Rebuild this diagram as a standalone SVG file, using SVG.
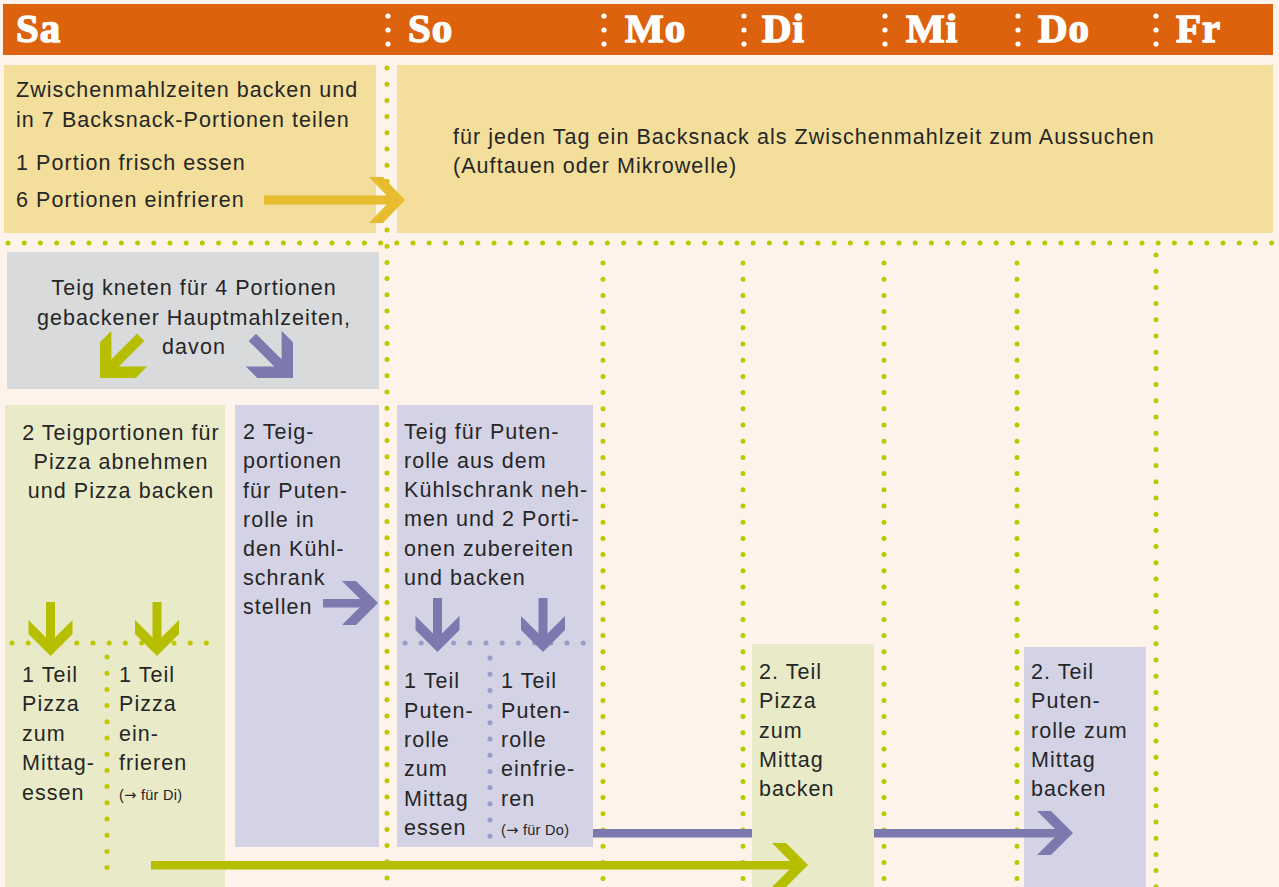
<svg xmlns="http://www.w3.org/2000/svg" xmlns:xlink="http://www.w3.org/1999/xlink" width="1279" height="887" viewBox="0 0 1279 887">
<defs>
<style>
.t{font-family:"Liberation Sans",Arial,sans-serif;font-size:21.5px;fill:#262626;letter-spacing:1.05px}
.s{font-size:14.5px;letter-spacing:0.3px}
.ar{font-family:"DejaVu Sans",sans-serif}
.day{font-family:"Liberation Serif","Times New Roman",serif;font-weight:bold;font-size:41px;fill:#fff;stroke:#fff;stroke-width:1.4px;letter-spacing:1px}
.gd{fill:none;stroke:#BEC700;stroke-width:5;stroke-linecap:round;stroke-dasharray:0 16.2}
.pd{fill:none;stroke:#9C9AC9;stroke-width:5;stroke-linecap:round;stroke-dasharray:0 16.2}
.yel{fill:#F3DE9C}
.gry{fill:#D9DADC}
.grn{fill:#E9EBC8}
.pur{fill:#D4D3E6}
.ga{fill:#B6BE00}
.pa{fill:#7B79AE}
.ya{fill:#E7BD2F}
</style>
<path id="head" d="M-36,-22 L-22,-22 L0,0 L-22,22 L-36,22 L-14,0 Z"/>
</defs>
<rect width="1279" height="887" fill="#FDF3EA"/>
<g id="header">
<rect x="3" y="4" width="1270" height="51" fill="#DC620E"/>
<g fill="#fff">
<circle cx="388" cy="16" r="2.6"/><circle cx="388" cy="30" r="2.6"/><circle cx="388" cy="44" r="2.6"/>
<circle cx="604" cy="16" r="2.6"/><circle cx="604" cy="30" r="2.6"/><circle cx="604" cy="44" r="2.6"/>
<circle cx="744" cy="16" r="2.6"/><circle cx="744" cy="30" r="2.6"/><circle cx="744" cy="44" r="2.6"/>
<circle cx="885" cy="16" r="2.6"/><circle cx="885" cy="30" r="2.6"/><circle cx="885" cy="44" r="2.6"/>
<circle cx="1018" cy="16" r="2.6"/><circle cx="1018" cy="30" r="2.6"/><circle cx="1018" cy="44" r="2.6"/>
<circle cx="1156" cy="16" r="2.6"/><circle cx="1156" cy="30" r="2.6"/><circle cx="1156" cy="44" r="2.6"/>
</g>
<text class="day" x="16" y="42">Sa</text>
<text class="day" x="408" y="42">So</text>
<text class="day" x="625" y="42">Mo</text>
<text class="day" x="762" y="42">Di</text>
<text class="day" x="906" y="42">Mi</text>
<text class="day" x="1038" y="42">Do</text>
<text class="day" x="1176" y="42">Fr</text>
</g>
<g id="grid">
<line class="gd" x1="8" y1="243" x2="1276" y2="243"/>
<line class="gd" x1="387" y1="68" x2="387" y2="887"/>
<line class="gd" x1="603" y1="263" x2="603" y2="887"/>
<line class="gd" x1="743" y1="263" x2="743" y2="887"/>
<line class="gd" x1="884" y1="263" x2="884" y2="887"/>
<line class="gd" x1="1017" y1="263" x2="1017" y2="887"/>
<line class="gd" x1="1156" y1="255" x2="1156" y2="887"/>
</g>
<g id="snack-sa">
<rect class="yel" x="4" y="65" width="372" height="168"/>
<text class="t" x="16" y="97">Zwischenmahlzeiten backen und</text>
<text class="t" x="16" y="127">in 7 Backsnack-Portionen teilen</text>
<text class="t" x="16" y="170">1 Portion frisch essen</text>
<text class="t" x="16" y="207">6 Portionen einfrieren</text>
</g>
<g id="snack-week">
<rect class="yel" x="397" y="65" width="876" height="168"/>
<text class="t" x="453" y="144">für jeden Tag ein Backsnack als Zwischenmahlzeit zum Aussuchen</text>
<text class="t" x="453" y="173">(Auftauen oder Mikrowelle)</text>
</g>
<g id="teig">
<rect class="gry" x="7" y="252" width="372" height="137"/>
<text class="t" x="194" y="295" text-anchor="middle">Teig kneten für 4 Portionen</text>
<text class="t" x="194" y="325" text-anchor="middle">gebackener Hauptmahlzeiten,</text>
<text class="t" x="194" y="354" text-anchor="middle">davon</text>
</g>
<g id="pizza-sa">
<rect class="grn" x="5" y="405" width="220" height="482"/>
<text class="t" x="121" y="440" text-anchor="middle">2 Teigportionen für</text>
<text class="t" x="121" y="469" text-anchor="middle">Pizza abnehmen</text>
<text class="t" x="121" y="498" text-anchor="middle">und Pizza backen</text>
<line class="gd" x1="12" y1="643" x2="222" y2="643"/>
<line class="gd" x1="107" y1="657" x2="107" y2="872"/>
<text class="t" x="22" y="682">1 Teil</text>
<text class="t" x="22" y="711">Pizza</text>
<text class="t" x="22" y="741">zum</text>
<text class="t" x="22" y="770">Mittag-</text>
<text class="t" x="22" y="800">essen</text>
<text class="t" x="119" y="682">1 Teil</text>
<text class="t" x="119" y="711">Pizza</text>
<text class="t" x="119" y="741">ein-</text>
<text class="t" x="119" y="770">frieren</text>
<text class="t s" x="119" y="800">(<tspan class="ar">→</tspan> für Di)</text>
</g>
<g id="puten-sa">
<rect class="pur" x="235" y="405" width="144" height="442"/>
<text class="t" x="243" y="439">2 Teig-</text>
<text class="t" x="243" y="468">portionen</text>
<text class="t" x="243" y="498">für Puten-</text>
<text class="t" x="243" y="527">rolle in</text>
<text class="t" x="243" y="556">den Kühl-</text>
<text class="t" x="243" y="585">schrank</text>
<text class="t" x="243" y="614">stellen</text>
</g>
<g id="puten-so">
<rect class="pur" x="397" y="405" width="196" height="442"/>
<text class="t" x="404" y="439">Teig für Puten-</text>
<text class="t" x="404" y="468">rolle aus dem</text>
<text class="t" x="404" y="497">Kühlschrank neh-</text>
<text class="t" x="404" y="526">men und 2 Porti-</text>
<text class="t" x="404" y="556">onen zubereiten</text>
<text class="t" x="404" y="585">und backen</text>
<line class="pd" x1="405" y1="643" x2="588" y2="643"/>
<line class="pd" x1="490" y1="658" x2="490" y2="845"/>
<text class="t" x="404" y="688">1 Teil</text>
<text class="t" x="404" y="718">Puten-</text>
<text class="t" x="404" y="747">rolle</text>
<text class="t" x="404" y="776">zum</text>
<text class="t" x="404" y="806">Mittag</text>
<text class="t" x="404" y="835">essen</text>
<text class="t" x="501" y="688">1 Teil</text>
<text class="t" x="501" y="718">Puten-</text>
<text class="t" x="501" y="747">rolle</text>
<text class="t" x="501" y="776">einfrie-</text>
<text class="t" x="501" y="806">ren</text>
<text class="t s" x="501" y="835">(<tspan class="ar">→</tspan> für Do)</text>
</g>
<g id="puten-do">
<rect class="pur" x="1024" y="647" width="122" height="240"/>
<text class="t" x="1031" y="679">2. Teil</text>
<text class="t" x="1031" y="708">Puten-</text>
<text class="t" x="1031" y="738">rolle zum</text>
<text class="t" x="1031" y="767">Mittag</text>
<text class="t" x="1031" y="796">backen</text>
</g>
<g id="connector-puten-do">
<rect class="pa" x="593" y="829" width="470" height="8.5"/>
<use xlink:href="#head" class="pa" transform="translate(1073,833)"/>
</g>
<g id="pizza-di">
<rect class="grn" x="752" y="644" width="122" height="243"/>
<text class="t" x="759" y="679">2. Teil</text>
<text class="t" x="759" y="708">Pizza</text>
<text class="t" x="759" y="738">zum</text>
<text class="t" x="759" y="767">Mittag</text>
<text class="t" x="759" y="796">backen</text>
</g>
<g id="connectors">
<rect class="ya" x="264" y="195.5" width="130" height="9"/>
<use xlink:href="#head" class="ya" transform="translate(405,200) scale(1,1.05)"/>
<g class="ga" transform="translate(100,378) rotate(135) scale(1.15)"><rect x="-50" y="-4.5" width="40" height="9"/><use xlink:href="#head"/></g>
<g class="pa" transform="translate(293,378) rotate(45) scale(1.15)"><rect x="-50" y="-4.5" width="40" height="9"/><use xlink:href="#head"/></g>
<rect class="pa" x="323" y="599" width="44" height="8.5"/>
<use xlink:href="#head" class="pa" transform="translate(378,603)"/>
<rect class="ga" x="46" y="602" width="9" height="44"/>
<use xlink:href="#head" class="ga" transform="translate(50.5,656) rotate(90)"/>
<rect class="ga" x="152.5" y="602" width="9" height="44"/>
<use xlink:href="#head" class="ga" transform="translate(157,656) rotate(90)"/>
<rect class="pa" x="433" y="598" width="9" height="44"/>
<use xlink:href="#head" class="pa" transform="translate(437.5,652) rotate(90)"/>
<rect class="pa" x="538.5" y="598" width="9" height="44"/>
<use xlink:href="#head" class="pa" transform="translate(543,652) rotate(90)"/>
<rect class="ga" x="151" y="861" width="647" height="8.5"/>
<use xlink:href="#head" class="ga" transform="translate(808,865)"/>
</g>
</svg>
